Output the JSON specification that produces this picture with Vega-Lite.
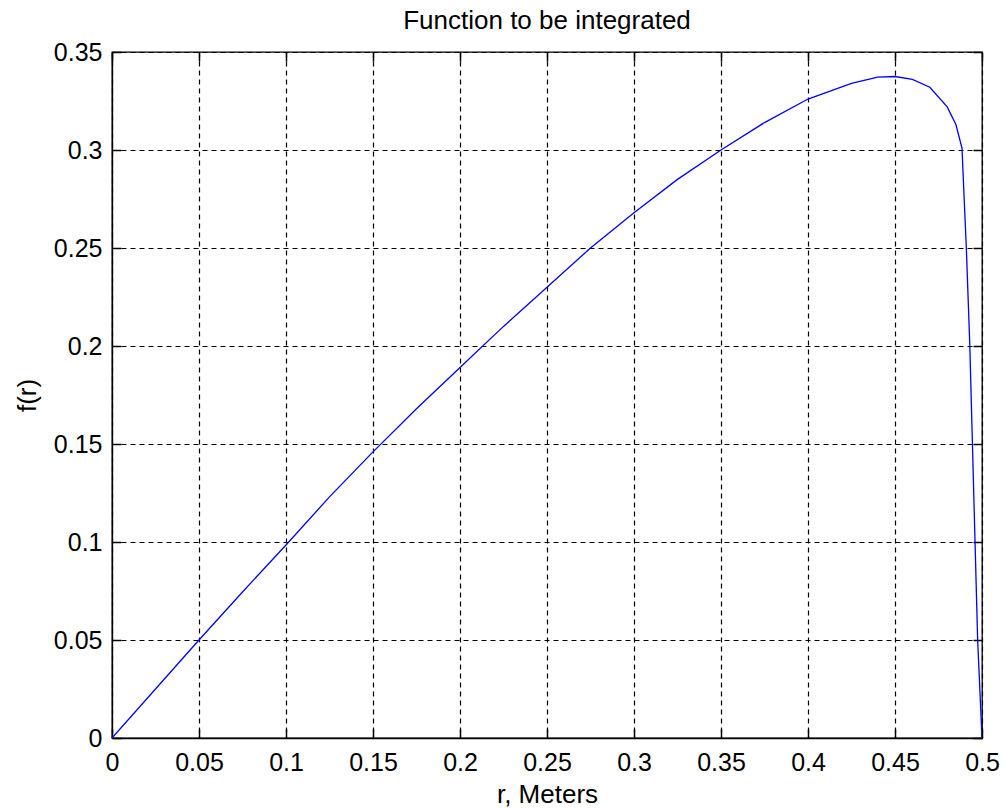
{
  "$schema": "https://vega.github.io/schema/vega-lite/v6.json",
  "autosize": {"type": "none"},
  "width": 870,
  "height": 686,
  "padding": {"left": 112, "top": 52, "right": 24, "bottom": 71},
  "background": "white",
  "title": {"text": "Function to be integrated", "font": "Liberation Sans", "fontSize": 26, "fontWeight": "normal", "color": "black", "offset": 6},
  "config": {
    "view": {"stroke": "black", "strokeWidth": 1.3},
    "axis": {
      "labelFont": "Liberation Sans", "labelFontSize": 25, "labelColor": "black", "labelFlush": false, "labelOverlap": false,
      "titleFont": "Liberation Sans", "titleFontSize": 26, "titleFontWeight": "normal", "titleColor": "black",
      "domainColor": "black", "domainWidth": 1.3, "tickColor": "black", "gridColor": "black", "gridDash": [5, 4], "gridOpacity": 1, "gridWidth": 1.2,
      "tickSize": -9, "tickWidth": 1.5
    }
  },
  "resolve": {"axis": {"x": "independent", "y": "independent"}},
  "data": {"values": [
    {"r": 0, "f": 0},
    {"r": 0.025, "f": 0.025},
    {"r": 0.05, "f": 0.05},
    {"r": 0.075, "f": 0.0745},
    {"r": 0.1, "f": 0.0985},
    {"r": 0.125, "f": 0.123},
    {"r": 0.15, "f": 0.146},
    {"r": 0.175, "f": 0.168},
    {"r": 0.2, "f": 0.189},
    {"r": 0.225, "f": 0.21},
    {"r": 0.25, "f": 0.23},
    {"r": 0.275, "f": 0.25},
    {"r": 0.3, "f": 0.268},
    {"r": 0.325, "f": 0.285},
    {"r": 0.35, "f": 0.3},
    {"r": 0.375, "f": 0.314},
    {"r": 0.4, "f": 0.326},
    {"r": 0.425, "f": 0.334},
    {"r": 0.44, "f": 0.3372},
    {"r": 0.45, "f": 0.3375},
    {"r": 0.46, "f": 0.336},
    {"r": 0.47, "f": 0.332},
    {"r": 0.48, "f": 0.322},
    {"r": 0.485, "f": 0.313},
    {"r": 0.4885, "f": 0.301},
    {"r": 0.49, "f": 0.27},
    {"r": 0.491, "f": 0.25},
    {"r": 0.493, "f": 0.2},
    {"r": 0.4945, "f": 0.15},
    {"r": 0.496, "f": 0.1},
    {"r": 0.4975, "f": 0.05},
    {"r": 0.499, "f": 0.02},
    {"r": 0.5, "f": 0}
  ]},
  "layer": [
    {
      "mark": {"type": "line", "color": "#0000ff", "strokeWidth": 1.3, "clip": true},
      "encoding": {
        "x": {"field": "r", "type": "quantitative", "scale": {"domain": [0, 0.5], "nice": false, "zero": false},
              "axis": {"orient": "bottom", "title": "r, Meters", "values": [0, 0.05, 0.1, 0.15, 0.2, 0.25, 0.3, 0.35, 0.4, 0.45, 0.5], "format": "~g", "labelPadding": 21, "titlePadding": 6, "grid": true}},
        "y": {"field": "f", "type": "quantitative", "scale": {"domain": [0, 0.35], "nice": false, "zero": false},
              "axis": {"orient": "left", "title": "f(r)", "values": [0, 0.05, 0.1, 0.15, 0.2, 0.25, 0.3, 0.35], "format": "~g", "labelPadding": 19, "titlePadding": 13, "grid": true}}
      }
    },
    {
      "mark": {"type": "line", "opacity": 0},
      "encoding": {
        "x": {"field": "r", "type": "quantitative",
              "axis": {"orient": "top", "title": null, "labels": false, "grid": false, "domain": false, "values": [0, 0.05, 0.1, 0.15, 0.2, 0.25, 0.3, 0.35, 0.4, 0.45, 0.5]}},
        "y": {"field": "f", "type": "quantitative",
              "axis": {"orient": "right", "title": null, "labels": false, "grid": false, "domain": false, "values": [0, 0.05, 0.1, 0.15, 0.2, 0.25, 0.3, 0.35]}}
      }
    }
  ]
}
